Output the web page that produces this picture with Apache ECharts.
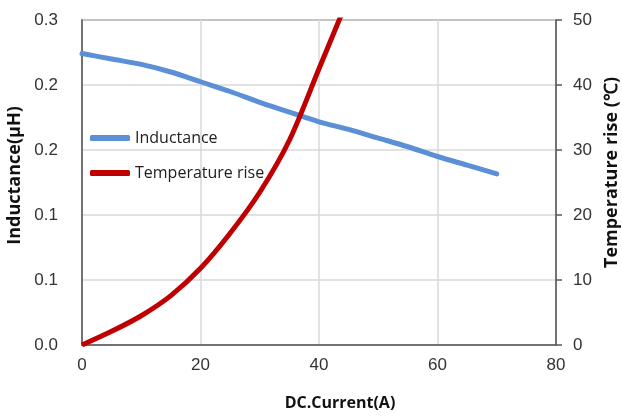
<!DOCTYPE html>
<html>
<head>
<meta charset="utf-8">
<script src="https://cdn.jsdelivr.net/npm/echarts@6/dist/echarts.min.js"></script>
<style>
  html, body { margin: 0; padding: 0; background: #fff; }
  #chart { width: 622px; height: 416px; }
</style>
</head>
<body>
<div id="chart"></div>
<script>
// DC current (A)
const currentA = [0, 5, 10, 15, 20, 25, 30, 35, 40, 45, 50, 55, 60, 65, 70]
// inductance (uH)
const inductance = [0.269, 0.264, 0.259, 0.252, 0.243, 0.234, 0.224, 0.215, 0.206, 0.199, 0.191, 0.183, 0.174, 0.166, 0.158]
// temperature rise (C), red curve runs off the top after ~43A
const tempCurrent = [0, 5, 10, 15, 20, 25, 30, 35, 40, 45]
const tempRise = [0, 2.1, 4.5, 7.6, 11.8, 17.2, 23.5, 31.5, 42.5, 53.5]

const legendNames = ['Inductance', 'Temperature rise']

const tickFont = 'Liberation Sans Narrow, Liberation Sans, sans-serif'
const titleFont = 'Open Sans, sans-serif'

const chart = echarts.init(document.getElementById('chart'))

const option = {
  animation: false,
  grid: {
    left: 82, right: 66, top: 20, bottom: 71,
    outerBoundsMode: 'none',
    show: true, borderColor: '#595959', borderWidth: 1.5
  },
  legend: {
    data: legendNames,
    orient: 'vertical',
    left: 85,
    top: 125,
    itemGap: 19,
    itemWidth: 40,
    itemHeight: 6,
    icon: 'roundRect',
    textStyle: { fontFamily: titleFont, fontSize: 16, fontWeight: 500, color: '#222' }
  },
  xAxis: {
    type: 'value',
    min: 0, max: 80, interval: 20,
    name: 'DC.Current(A)',
    nameLocation: 'middle',
    nameGap: 50,
    nameTextStyle: { fontFamily: titleFont, fontSize: 16, fontWeight: 'bold', color: '#111', padding: [0, 0, 0, 42] },
    axisLine: { lineStyle: { color: '#595959', width: 1.5 } },
    axisTick: { show: false },
    axisLabel: { fontFamily: tickFont, fontSize: 17, color: '#333', margin: 12 },
    splitLine: { lineStyle: { color: '#d9d9d9', width: 1.5 } }
  },
  yAxis: [
    {
      type: 'value',
      min: 0, max: 0.3, interval: 0.06,
      name: 'Inductance(μH)',
      nameLocation: 'middle',
      nameRotate: 90,
      nameGap: 58,
      nameTextStyle: { fontFamily: titleFont, fontSize: 18, fontWeight: 'bold', color: '#111', padding: [0, 0, 0, 14] },
      axisLine: { show: true, lineStyle: { color: '#595959', width: 1.5 } },
      axisTick: { show: false },
      axisLabel: {
        fontFamily: tickFont, fontSize: 17, color: '#333', margin: 24,
        formatter: v => v.toFixed(1)
      },
      splitLine: { lineStyle: { color: '#d9d9d9', width: 1.5 } }
    },
    {
      type: 'value',
      position: 'right',
      min: 0, max: 50, interval: 10,
      name: 'Temperature rise (℃)',
      nameLocation: 'middle',
      nameRotate: 90,
      nameGap: 46,
      nameTextStyle: { fontFamily: titleFont, fontSize: 18, fontWeight: 'bold', color: '#111', padding: [0, 0, 0, 20] },
      axisLine: { show: true, lineStyle: { color: '#595959', width: 1.5 } },
      axisTick: { show: true, inside: false, length: 6, lineStyle: { color: '#595959', width: 1.5 } },
      axisLabel: { fontFamily: tickFont, fontSize: 17, color: '#333', margin: 17 },
      splitLine: { show: false }
    }
  ],
  series: [
    {
      name: legendNames[0],
      type: 'line',
      yAxisIndex: 0,
      data: currentA.map((x, i) => [x, inductance[i]]),
      smooth: 0.3,
      showSymbol: false,
      lineStyle: { color: '#5b8fd6', width: 5, cap: 'round' },
      itemStyle: { color: '#5b8fd6' }
    },
    {
      name: legendNames[1],
      type: 'line',
      yAxisIndex: 1,
      data: tempCurrent.map((x, i) => [x, tempRise[i]]),
      smooth: 0.3,
      showSymbol: false,
      clip: true,
      lineStyle: { color: '#c00000', width: 5 },
      itemStyle: { color: '#c00000' }
    }
  ]
}

chart.setOption(option)
</script>
</body>
</html>
